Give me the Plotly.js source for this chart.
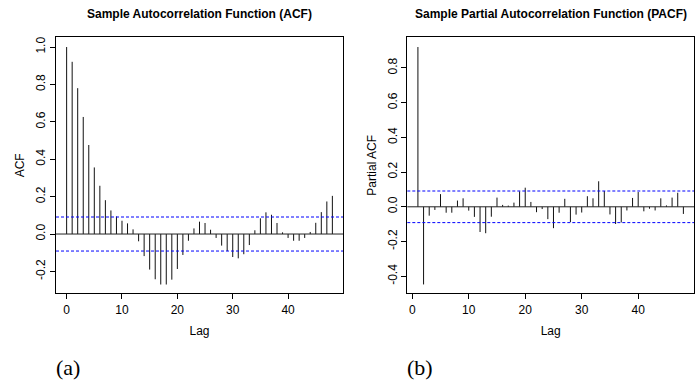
<!DOCTYPE html>
<html>
<head>
<meta charset="utf-8">
<script src="https://cdn.plot.ly/plotly-3.0.1.min.js"></script>
<style>html,body{margin:0;padding:0;background:#fff;}#chart{width:699px;height:381px;}</style>
</head>
<body>
<div id="chart"></div>
<script>
// ---- data ----
const acfLags = [0,1,2,3,4,5,6,7,8,9,10,11,12,13,14,15,16,17,18,19,20,21,22,23,24,25,26,27,28,29,30,31,32,33,34,35,36,37,38,39,40,41,42,43,44,45,46,47,48];
const acfValues = [1.000,0.921,0.780,0.626,0.476,0.356,0.258,0.181,0.126,0.094,0.071,0.057,0.025,-0.039,-0.118,-0.190,-0.242,-0.270,-0.270,-0.244,-0.187,-0.112,-0.036,0.030,0.066,0.059,0.023,-0.021,-0.062,-0.091,-0.123,-0.130,-0.108,-0.059,0.020,0.084,0.116,0.103,0.059,0.009,-0.021,-0.036,-0.036,-0.021,0.011,0.060,0.117,0.174,0.204];
const pacfLags = [1,2,3,4,5,6,7,8,9,10,11,12,13,14,15,16,17,18,19,20,21,22,23,24,25,26,27,28,29,30,31,32,33,34,35,36,37,38,39,40,41,42,43,44,45,46,47,48];
const pacfValues = [0.920,-0.447,-0.051,-0.018,0.073,-0.034,-0.034,0.036,0.049,-0.022,-0.058,-0.145,-0.152,-0.057,0.053,0.011,0.007,0.024,0.089,0.110,0.028,-0.031,-0.013,-0.071,-0.123,-0.034,0.046,-0.088,-0.045,-0.033,0.061,0.049,0.147,0.091,-0.044,-0.099,-0.090,-0.021,0.051,0.085,-0.026,-0.011,-0.021,0.049,0.008,0.053,0.081,-0.041];
const confBound = 0.091;
const acfTicks = [-0.2,0.0,0.2,0.4,0.6,0.8,1.0];
const acfTickText = ["-0.2","0.0","0.2","0.4","0.6","0.8","1.0"];
const pacfTicks = [-0.4,-0.2,0.0,0.2,0.4,0.6,0.8];
const pacfTickText = ["-0.4","-0.2","0.0","0.2","0.4","0.6","0.8"];
const lagTicks = [0,10,20,30,40];
const titles = ["Sample Autocorrelation Function (ACF)", "Sample Partial Autocorrelation Function (PACF)"];
const yTitles = ["ACF", "Partial ACF"];
const panelLabels = ["(a)", "(b)"];

// ---- build spike traces ----
function spikes(lags, vals, xa, ya) {
  const x = [], y = [];
  lags.forEach((l, i) => { x.push(l, l, null); y.push(0, vals[i], null); });
  return {type:'scatter', mode:'lines', x:x, y:y, xaxis:xa, yaxis:ya,
          line:{color:'#111', width:1}, hoverinfo:'skip', showlegend:false};
}

const W = 699, H = 381;
const font = {family:'"Liberation Sans", Arial, Helvetica, sans-serif', size:12, color:'#000'};
const yDom = [1 - 293.3/H, 1 - 37.3/H];

function xAxis(dom, range) {
  return {domain:dom, range:range, showgrid:false, zeroline:false, showline:true, mirror:true,
          linecolor:'#000', linewidth:1, ticks:'outside', ticklen:5, tickcolor:'#000',
          tickvals:lagTicks, ticktext:lagTicks.map(String), tickfont:font,
          title:{text:'Lag', font:font, standoff:10}};
}
function yAxis(dom, range, tv, tt, title, anchor) {
  return {domain:dom, range:range, anchor:anchor, showgrid:false, zeroline:false, showline:true, mirror:true,
          linecolor:'#000', linewidth:1, ticks:'outside', ticklen:5, tickcolor:'#000',
          tickvals:tv, ticktext:tt, tickangle:-90, tickfont:font,
          title:{text:title, font:font, standoff:6}};
}

function hline(xr, yr, y, dashed) {
  return {type:'line', xref:xr + ' domain', yref:yr, x0:0, x1:1, y0:y, y1:y,
          line: dashed ? {color:'#0000ff', width:1, dash:'3px,2px'} : {color:'#222', width:1}};
}

const data = [
  spikes(acfLags, acfValues, 'x', 'y'),
  spikes(pacfLags, pacfValues, 'x2', 'y2')
];

const layout = {
  width:W, height:H, margin:{l:0, r:0, t:0, b:0},
  paper_bgcolor:'#fff', plot_bgcolor:'#fff', showlegend:false, font:font,
  xaxis: Object.assign(xAxis([56/W, 343/W], [-1.92, 49.92]), {anchor:'y'}),
  yaxis: yAxis(yDom, [-0.317, 1.052], acfTicks, acfTickText, yTitles[0], 'x'),
  xaxis2: Object.assign(xAxis([407.3/W, 694/W], [-0.88, 49.88]), {anchor:'y2'}),
  yaxis2: yAxis(yDom, [-0.498, 0.976], pacfTicks, pacfTickText, yTitles[1], 'x2'),
  shapes: [
    hline('x','y',0,false), hline('x','y',confBound,true), hline('x','y',-confBound,true),
    hline('x2','y2',0,false), hline('x2','y2',confBound,true), hline('x2','y2',-confBound,true)
  ],
  annotations: [
    {text:titles[0], xref:'paper', yref:'paper', x:199.5/W, y:1 - 14/H, xanchor:'center', yanchor:'middle', showarrow:false,
     font:{family:font.family, size:12, color:'#000', weight:'bold'}},
    {text:titles[1], xref:'paper', yref:'paper', x:550.5/W, y:1 - 14/H, xanchor:'center', yanchor:'middle', showarrow:false,
     font:{family:font.family, size:12, color:'#000', weight:'bold'}},
    {text:panelLabels[0], xref:'paper', yref:'paper', x:68/W, y:1 - 367/H, xanchor:'center', yanchor:'middle', showarrow:false,
     font:{family:'"Liberation Serif", "Times New Roman", serif', size:22, color:'#000'}},
    {text:panelLabels[1], xref:'paper', yref:'paper', x:420/W, y:1 - 367/H, xanchor:'center', yanchor:'middle', showarrow:false,
     font:{family:'"Liberation Serif", "Times New Roman", serif', size:22, color:'#000'}}
  ]
};

Plotly.newPlot('chart', data, layout, {staticPlot:true, displayModeBar:false});
</script>
</body>
</html>
